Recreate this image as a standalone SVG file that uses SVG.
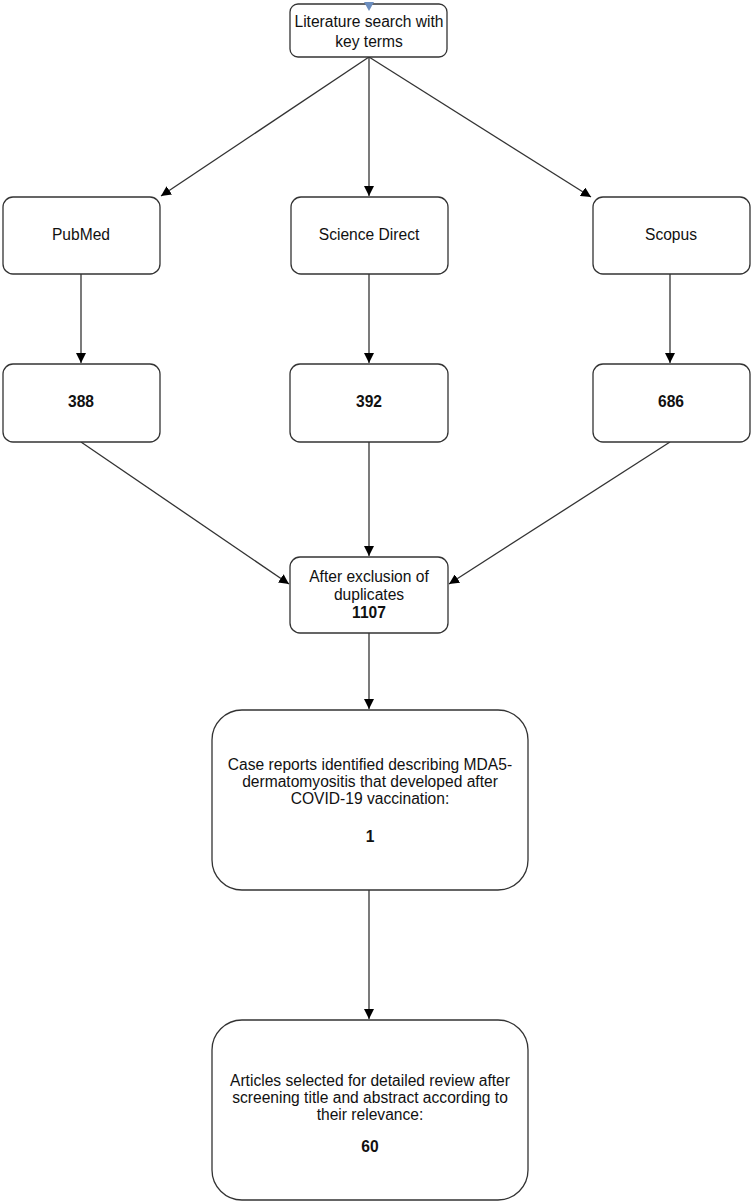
<svg xmlns="http://www.w3.org/2000/svg" width="752" height="1202" viewBox="0 0 752 1202">
<style>
.box{fill:#fff;stroke:#333;stroke-width:1.3}
.t{font-family:"Liberation Sans",Arial,sans-serif;font-size:15.6px;fill:#111;text-anchor:middle}
.b{font-weight:bold}
.c{fill:none;stroke:#333;stroke-width:1.3}
</style>
<defs>
<marker id="ah2" viewBox="0 0 10 10" refX="10" refY="5" markerWidth="10" markerHeight="10" orient="auto" markerUnits="userSpaceOnUse">
<path d="M0,0 L10,5 L0,10 Z" fill="#000"/>
</marker>
</defs>
<rect width="752" height="1202" fill="#fff"/>
<g id="connectors">
<path class="c" d="M369,57 L161,196" marker-end="url(#ah2)"/>
<path class="c" d="M369,57 L369,196" marker-end="url(#ah2)"/>
<path class="c" d="M369,57 L591,197" marker-end="url(#ah2)"/>
<path class="c" d="M81,274 L81,363" marker-end="url(#ah2)"/>
<path class="c" d="M369,274 L369,363" stroke-width="2" marker-end="url(#ah2)"/>
<path class="c" d="M670,274 L670,363" marker-end="url(#ah2)"/>
<path class="c" d="M81,442 L289,584" marker-end="url(#ah2)"/>
<path class="c" d="M369,442 L369,556" marker-end="url(#ah2)"/>
<path class="c" d="M670,442 L449,584" marker-end="url(#ah2)"/>
<path class="c" d="M369,633 L369,709" marker-end="url(#ah2)"/>
<path class="c" d="M369,890 L369,1019" marker-end="url(#ah2)"/>
</g>
<g id="n-search">
<rect class="box" x="290" y="4" width="157" height="53" rx="8"/>
<text class="t" x="369" y="27">Literature search with</text>
<text class="t" x="369" y="47">key terms</text>
<path d="M364,2 L374,2 L369,11 Z" fill="#6c8ebf"/>
</g>
<g id="n-pubmed">
<rect class="box" x="3" y="197" width="157" height="77" rx="10"/>
<text class="t" x="81" y="240">PubMed</text>
</g>
<g id="n-sd">
<rect class="box" x="291" y="197" width="157" height="77" rx="10"/>
<text class="t" x="369" y="240">Science Direct</text>
</g>
<g id="n-scopus">
<rect class="box" x="593" y="197" width="157" height="77" rx="10"/>
<text class="t" x="671" y="240">Scopus</text>
</g>
<g id="n-388">
<rect class="box" x="3" y="364" width="157" height="78" rx="10"/>
<text class="t b" x="81" y="407">388</text>
</g>
<g id="n-392">
<rect class="box" x="290" y="364" width="158" height="78" rx="10"/>
<text class="t b" x="369" y="407">392</text>
</g>
<g id="n-686">
<rect class="box" x="593" y="364" width="157" height="78" rx="10"/>
<text class="t b" x="671" y="407">686</text>
</g>
<g id="n-dup">
<rect class="box" x="290" y="557" width="158" height="76" rx="10"/>
<text class="t" x="369" y="582">After exclusion of</text>
<text class="t" x="369" y="600">duplicates</text>
<text class="t b" x="369" y="618">1107</text>
</g>
<g id="n-case">
<rect class="box" x="212" y="710" width="316" height="180" rx="30"/>
<text class="t" x="370" y="770">Case reports identified describing MDA5-</text>
<text class="t" x="370" y="787">dermatomyositis that developed after</text>
<text class="t" x="370" y="804">COVID-19 vaccination:</text>
<text class="t b" x="370" y="842">1</text>
</g>
<g id="n-articles">
<rect class="box" x="212" y="1020" width="316" height="180" rx="30"/>
<text class="t" x="370" y="1086">Articles selected for detailed review after</text>
<text class="t" x="370" y="1103">screening title and abstract according to</text>
<text class="t" x="370" y="1120">their relevance:</text>
<text class="t b" x="370" y="1152">60</text>
</g>
</svg>
